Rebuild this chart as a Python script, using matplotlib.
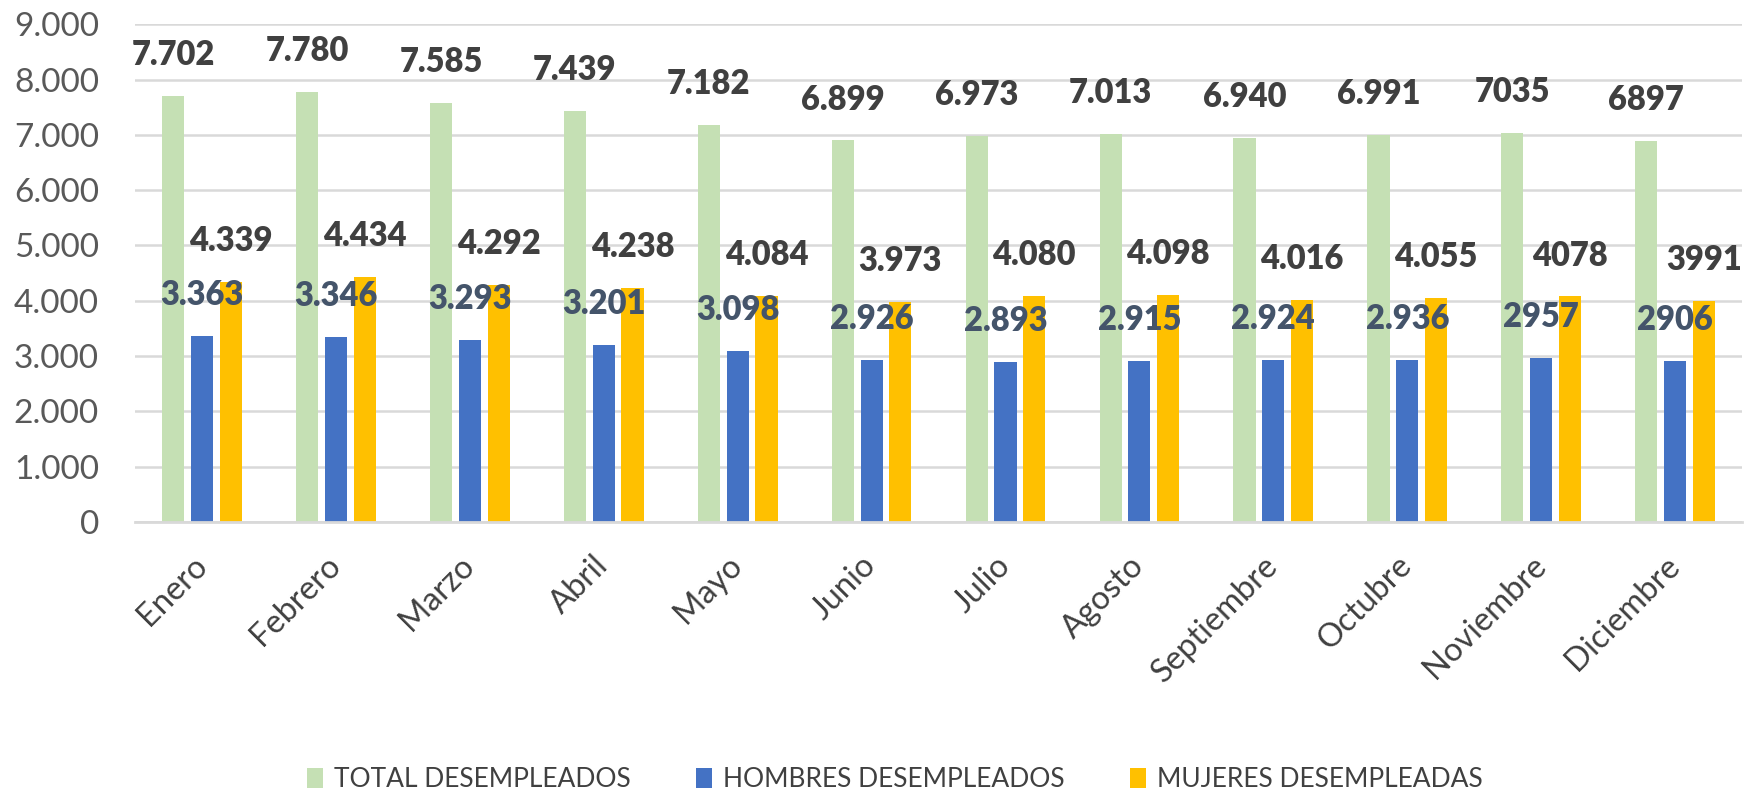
import numpy as np
import matplotlib.pyplot as plt
from matplotlib.patches import Patch

# Datos del gráfico
meses = ['Enero', 'Febrero', 'Marzo', 'Abril', 'Mayo', 'Junio', 'Julio',
         'Agosto', 'Septiembre', 'Octubre', 'Noviembre', 'Diciembre']
total = [7702, 7780, 7585, 7439, 7182, 6899, 6973, 7013, 6940, 6991, 7035, 6897]
hombres = [3363, 3346, 3293, 3201, 3098, 2926, 2893, 2915, 2924, 2936, 2957, 2906]
mujeres = [4339, 4434, 4292, 4238, 4084, 3973, 4080, 4098, 4016, 4055, 4078, 3991]
# meses cuyas etiquetas aparecen sin separador de miles
sin_separador = ['Noviembre', 'Diciembre']
series = ['TOTAL DESEMPLEADOS', 'HOMBRES DESEMPLEADOS', 'MUJERES DESEMPLEADAS']

colores = ['#C5E0B4', '#4472C4', '#FFC000']
color_etiquetas = ['#404040', '#44546A', '#404040']

plt.rcParams['font.family'] = ['Lato', 'DejaVu Sans']


def formato(v, mes):
    if mes in sin_separador:
        return str(v)
    return f'{v:,}'.replace(',', '.')


fig = plt.figure(figsize=(17.65, 7.99), dpi=100)
ax = fig.add_axes([0.0765, 0.3467, 0.9105, 0.6229])

x = np.arange(len(meses))
ancho = 0.165
desp = 0.215

for i, (valores, nombre) in enumerate(zip([total, hombres, mujeres], series)):
    pos = x + (i - 1) * desp
    ax.bar(pos, valores, width=ancho, color=colores[i], label=nombre, zorder=2)
    for px, v, mes in zip(pos, valores, meses):
        ax.annotate(formato(v, mes), (px, v), xytext=(0, 29.5),
                    textcoords='offset points', ha='center', va='center',
                    fontsize=23.5, fontweight='heavy', color=color_etiquetas[i],
                    zorder=3)

ax.set_xlim(-0.5, len(meses) - 0.5)
ax.set_ylim(0, 9000)
ax.set_yticks(np.arange(0, 9001, 1000))
ax.set_yticklabels([formato(v, '') for v in range(0, 9001, 1000)])
ax.yaxis.grid(True, color='#D9D9D9', linewidth=1.8, zorder=0)
ax.set_axisbelow(True)

for lado in ['top', 'right', 'left']:
    ax.spines[lado].set_visible(False)
ax.spines['bottom'].set_color('#D9D9D9')
ax.spines['bottom'].set_linewidth(2)

ax.tick_params(axis='y', length=0, pad=26, labelsize=24, labelcolor='#595959')
ax.tick_params(axis='x', length=0, pad=28, labelsize=23.5, labelcolor='#404040')
ax.set_xticks(x)
ax.set_xticklabels(meses, rotation=45, ha='right', va='center',
                   rotation_mode='anchor')

manejadores = [Patch(facecolor=c) for c in colores]
fig.legend(manejadores, series, loc='center', bbox_to_anchor=(0.507, 0.024),
           ncol=3, frameon=False, fontsize=19, labelcolor='#404040',
           handlelength=0.6, handleheight=0.8, handletextpad=0.4,
           columnspacing=2.5)

fig.savefig('out.png', dpi=100)
